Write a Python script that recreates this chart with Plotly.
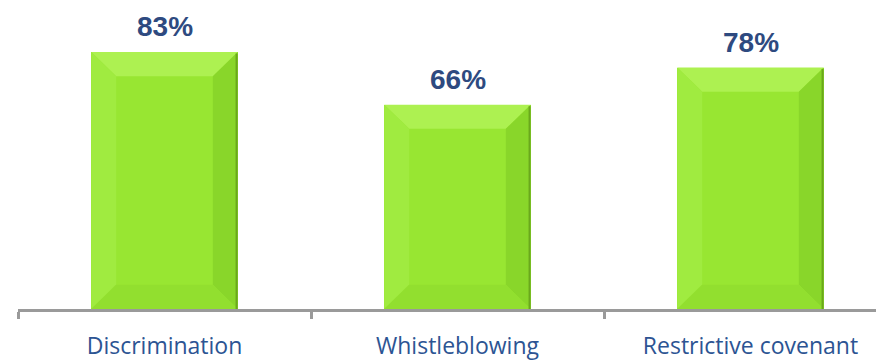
import plotly.graph_objects as go

categories = ["Discrimination", "Whistleblowing", "Restrictive covenant"]
values = [83, 66, 78]
labels = ["83%", "66%", "78%"]

BAR_W = 0.5
BEV_X = 0.085   # bevel width in category units (~25px)
BEV_Y = 7.8     # bevel height in value units (~25px)

MAIN = "#98E632"
TOP = "#ADF151"
LEFT = "#A0EB40"
RIGHT = "#89D62A"
BOTTOM = "#92DF2F"
EDGE = "#6AA81C"

fig = go.Figure()
xs = list(range(len(categories)))
fig.add_trace(go.Bar(x=xs, y=values, width=BAR_W, marker=dict(color=MAIN, line=dict(width=0)),
                     hoverinfo="skip", showlegend=False))

def poly(px, py, color):
    fig.add_trace(go.Scatter(x=px + [px[0]], y=py + [py[0]], mode="lines", fill="toself",
                             fillcolor=color, line=dict(width=0), hoverinfo="skip", showlegend=False))

for x, v in zip(xs, values):
    l, r = x - BAR_W / 2, x + BAR_W / 2
    t, b = v, 0
    poly([l, r, r - BEV_X, l + BEV_X], [t, t, t - BEV_Y, t - BEV_Y], TOP)
    poly([l, l + BEV_X, l + BEV_X, l], [t, t - BEV_Y, b + BEV_Y, b], LEFT)
    poly([r, r - BEV_X, r - BEV_X, r], [t, t - BEV_Y, b + BEV_Y, b], RIGHT)
    poly([l, l + BEV_X, r - BEV_X, r], [b, b + BEV_Y, b + BEV_Y, b], BOTTOM)
    # dark right edge line
    fig.add_trace(go.Scatter(x=[r - 0.004, r - 0.004], y=[b, t - 0.5], mode="lines",
                             line=dict(color=EDGE, width=2), hoverinfo="skip", showlegend=False))

for x, v, lab in zip(xs, values, labels):
    fig.add_annotation(x=x, y=v, text="<b>" + lab + "</b>", showarrow=False, yanchor="bottom", yshift=8,
                       font=dict(family="Liberation Sans, Arial", size=28, color="#2E4A80"))

fig.update_layout(
    width=876, height=361,
    margin=dict(l=18, r=0, t=0, b=43),
    plot_bgcolor="white", paper_bgcolor="white",
    bargap=0,
    xaxis=dict(
        range=[-0.5, -0.5 + 858 / 293], tickmode="array", tickvals=xs, ticktext=categories,
        showline=True, linecolor="#9A9A9A", linewidth=2.5, showgrid=False, zeroline=False,
        ticks="", ticklabelstandoff=15,
        tickfont=dict(family="Open Sans", size=23, color="#2C5493"),
        minor=dict(tickmode="array", tickvals=[-0.5, 0.5, 1.5], ticks="outside", ticklen=7,
                   tickwidth=2.5, tickcolor="#9A9A9A", showgrid=False),
        fixedrange=True,
    ),
    yaxis=dict(range=[0, 99.8], visible=False, showgrid=False, zeroline=False, fixedrange=True),
)

fig.write_html("out.html")
